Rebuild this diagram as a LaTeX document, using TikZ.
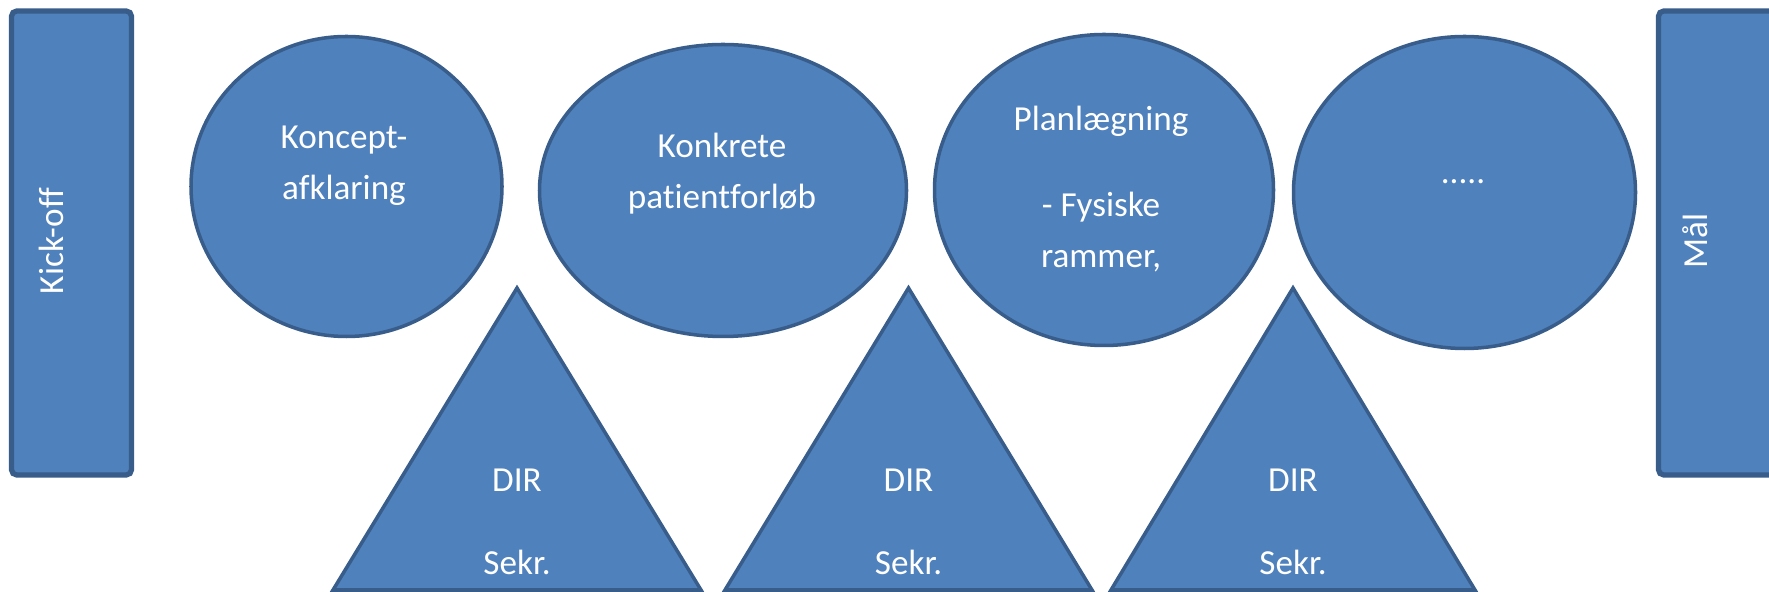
\documentclass[tikz,border=0pt]{standalone}
\usepackage{fontspec}
\setmainfont[Ligatures=NoCommon]{Carlito}
\usepackage{xcolor}
\usepackage{tikz}
\usetikzlibrary{shapes.geometric}
\definecolor{phasefill}{HTML}{4F81BD}
\definecolor{phaseline}{HTML}{385D8A}

\begin{document}
\begin{tikzpicture}[
    phase/.style={ellipse, draw=phaseline, fill=phasefill, line width=1pt, inner sep=0pt},
    milestone/.style={rectangle, rounded corners=1.5pt, draw=phaseline, fill=phasefill, line width=1.5pt, inner sep=0pt, minimum width=1.2cm, minimum height=4.64cm},
    dirtri/.style={draw=phaseline, fill=phasefill, line width=1pt, line join=miter},
    phasetext/.style={text=white, align=center, inner sep=0pt, font=\fontsize{10}{14.5}\selectfont},
    sidetext/.style={text=white, inner sep=0pt, rotate=90, anchor=base, font=\fontsize{10}{12}\selectfont},
]
    \useasboundingbox (0,0) rectangle (17.69,5.92);
    \fill[white] (0,0) rectangle (17.69,5.92);

    \node[milestone] (kickoff) at (0.715,3.49) {};
    \node[milestone] (maal) at (17.185,3.49) {};
    \node[sidetext] (kickofftxt) at (0.63,3.51) {Kick-off};
    \node[sidetext] (maaltxt) at (17.07,3.51) {Mål};

    \node[phase, minimum width=3.11cm, minimum height=3.0cm] (koncept) at (3.465,4.055) {};
    \node[phase, minimum width=3.67cm, minimum height=2.92cm] (forloeb) at (7.23,4.015) {};
    \node[phase, minimum width=3.39cm, minimum height=3.11cm] (planlaeg) at (11.04,4.02) {};
    \node[phase, minimum width=3.42cm, minimum height=3.12cm] (videre) at (14.645,3.995) {};

    \node[phasetext] (konceptxt) at (3.44,4.26) {Koncept-\\afklaring};
    \node[phasetext] (forloebtxt) at (7.22,4.185) {Konkrete\\patientforløb};
    \node[phasetext] (planlaegtxt) at (11.01,4.03) {Planlægning\\[10.2pt]- Fysiske\\rammer,};
    \node[phasetext, anchor=base] (viderettxt) at (14.63,4.08) {.....};

    \draw[dirtri] (3.33,0.02) -- (5.17,3.04) -- (7.01,0.02) -- cycle;
    \draw[dirtri] (7.25,0.02) -- (9.085,3.04) -- (10.92,0.02) -- cycle;
    \draw[dirtri] (11.11,0.02) -- (12.93,3.04) -- (14.75,0.02) -- cycle;

    \node[phasetext] (dir1) at (5.17,0.70) {DIR\\[9pt]Sekr.};
    \node[phasetext] (dir2) at (9.085,0.70) {DIR\\[9pt]Sekr.};
    \node[phasetext] (dir3) at (12.93,0.70) {DIR\\[9pt]Sekr.};
\end{tikzpicture}
\end{document}
